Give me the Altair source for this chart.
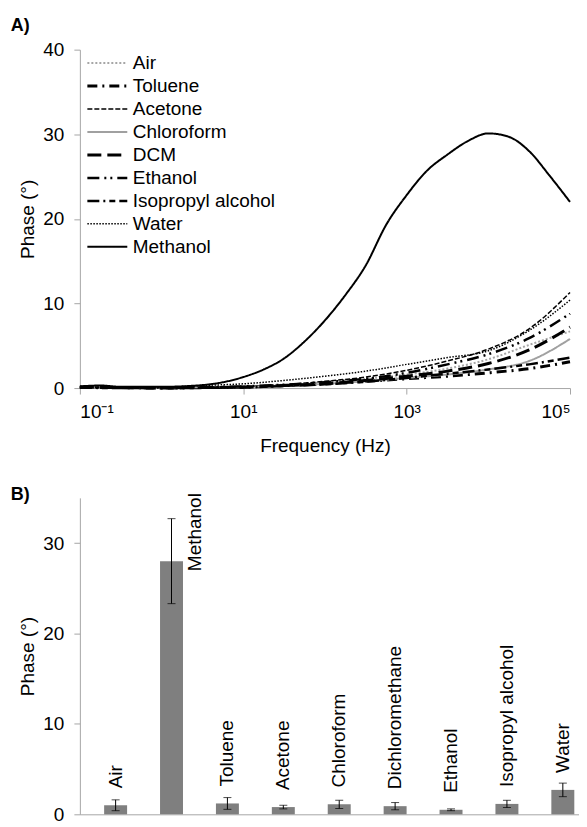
import altair as alt
import pandas as pd

FONT = "Liberation Sans"
FS = 19

# ---------------- Panel A data ----------------
legend_order = ["Air", "Toluene", "Acetone", "Chloroform", "DCM", "Ethanol",
                "Isopropyl alcohol", "Water", "Methanol"]
line_colors = ["#a6a6a6", "#000000", "#000000", "#a0a0a0", "#000000", "#000000",
               "#000000", "#000000", "#000000"]
line_dashes = [[2, 2], [10, 5, 2, 5], [5, 2], [1, 0], [14, 6], [12, 5, 2, 4, 2, 5],
               [12, 4, 2, 4, 6, 4], [1.5, 1.5], [1, 0]]
line_widths = [2, 3, 1.5, 2, 3, 2.5, 2.5, 1.5, 2]

xtick_values = [0.1, 10, 1000, 100000]
xtick_labels = ["10\u207b\u00b9", "10\u00b9", "10\u00b3", "10\u2075"]

freq_fine = [0.1, 0.178, 0.316, 1, 3.16, 10, 17.8, 31.6, 56.2, 100, 178, 316, 562,
             1000, 1778, 3162, 5623, 10000, 17783, 31623, 56234, 100000]
methanol = [0.2, 0.3, 0.15, 0.15, 0.35, 1.3, 2.2, 3.5, 5.5, 8.0, 11.0, 14.5, 19.3,
            22.8, 25.7, 27.6, 29.2, 30.1, 29.7, 28.0, 25.1, 22.0]

freq = [0.1, 0.316, 1, 3.16, 10, 31.6, 100, 316, 1000, 3162, 10000, 31623, 100000]
air = [0.1, 0.05, 0.05, 0.1, 0.2, 0.4, 0.7, 1.1, 1.6, 2.3, 3.4, 5.1, 6.7]
toluene = [0.1, 0.05, 0.0, 0.05, 0.1, 0.3, 0.5, 0.8, 1.1, 1.4, 1.8, 2.3, 3.1]
acetone = [0.1, 0.05, 0.05, 0.1, 0.2, 0.4, 0.8, 1.3, 2.1, 3.2, 4.6, 7.0, 11.3]
chloroform = [0.1, 0.05, 0.05, 0.1, 0.15, 0.3, 0.5, 0.8, 1.2, 1.6, 2.2, 3.2, 5.8]
dcm = [0.1, 0.05, 0.0, 0.05, 0.1, 0.3, 0.5, 0.9, 1.4, 2.0, 2.9, 4.5, 7.2]
ethanol = [0.1, 0.05, 0.05, 0.1, 0.2, 0.4, 0.7, 1.1, 1.8, 2.8, 4.0, 5.9, 8.8]
isopropyl = [0.05, 0.0, 0.0, 0.05, 0.1, 0.25, 0.45, 0.75, 1.2, 1.7, 2.2, 2.8, 3.6]
water = [0.1, 0.1, 0.1, 0.3, 0.5, 0.9, 1.4, 2.0, 2.8, 3.6, 4.4, 6.8, 10.4]

series = {
    "Air": (freq, air), "Toluene": (freq, toluene), "Acetone": (freq, acetone),
    "Chloroform": (freq, chloroform), "DCM": (freq, dcm), "Ethanol": (freq, ethanol),
    "Isopropyl alcohol": (freq, isopropyl), "Water": (freq, water),
    "Methanol": (freq_fine, methanol),
}
rows = []
for name, (fs, vs) in series.items():
    for f, v in zip(fs, vs):
        rows.append({"solvent": name, "freq": f, "phase": v})
df_lines = pd.DataFrame(rows)

# ---------------- Panel B data ----------------
bar_solvents = ["Air", "Methanol", "Toluene", "Acetone", "Chloroform",
                "Dichloromethane", "Ethanol", "Isopropyl alcohol", "Water"]
bar_phase = [1.0, 28.0, 1.2, 0.8, 1.1, 0.9, 0.5, 1.15, 2.7]
bar_err = [0.6, 4.7, 0.65, 0.2, 0.45, 0.4, 0.1, 0.4, 0.75]
df_bars = pd.DataFrame({
    "solvent": bar_solvents,
    "idx": list(range(len(bar_solvents))),
    "phase": bar_phase,
    "lo": [p - e for p, e in zip(bar_phase, bar_err)],
    "hi": [p + e for p, e in zip(bar_phase, bar_err)],
})

label_expr = " : ".join(
    f"datum.value < {v * 1.5} ? '{t}'" for v, t in zip(xtick_values[:-1], xtick_labels[:-1])
) + f" : '{xtick_labels[-1]}'"

# ---------------- Panel A ----------------
chart_a = alt.Chart(df_lines).mark_line(interpolate="monotone").encode(
    x=alt.X("freq:Q",
            scale=alt.Scale(type="log", domain=[0.1, 100000], nice=False),
            axis=alt.Axis(values=xtick_values, labelExpr=label_expr,
                          title="Frequency (Hz)", titlePadding=15, labelPadding=9)),
    y=alt.Y("phase:Q", scale=alt.Scale(domain=[0, 40], nice=False),
            axis=alt.Axis(values=[0, 10, 20, 30, 40], title="Phase (°)")),
    color=alt.Color("solvent:N", scale=alt.Scale(domain=legend_order, range=line_colors),
                    title=None),
    strokeDash=alt.StrokeDash("solvent:N", scale=alt.Scale(domain=legend_order, range=line_dashes),
                              title=None),
    strokeWidth=alt.StrokeWidth("solvent:N", scale=alt.Scale(type="ordinal", domain=legend_order,
                                                             range=line_widths),
                                title=None),
).properties(
    width=491, height=339,
    title=alt.TitleParams("A)", anchor="start", frame="bounds", fontSize=18,
                          fontWeight="bold", font=FONT, color="black", dx=-8, offset=6),
)

# ---------------- Panel B ----------------
base = alt.Chart(df_bars)
xb = alt.X("idx:Q", scale=alt.Scale(domain=[-0.55, 8.2], nice=False, zero=False),
           axis=alt.Axis(labels=False, ticks=False, title=None))
yb = alt.Y("phase:Q", scale=alt.Scale(domain=[0, 35], nice=False),
           axis=alt.Axis(values=[0, 10, 20, 30], title="Phase (°)"))

bars = base.mark_bar(size=23, color="#7f7f7f").encode(x=xb, y=yb)
err = base.mark_rule(color="black", strokeWidth=1).encode(x="idx:Q", y="lo:Q", y2="hi:Q")
cap_hi = base.mark_tick(orient="horizontal", size=8, thickness=1, color="black").encode(
    x="idx:Q", y="hi:Q")
cap_lo = base.mark_tick(orient="horizontal", size=8, thickness=1, color="black").encode(
    x="idx:Q", y="lo:Q")
labels = base.transform_filter(alt.datum.solvent != "Methanol").mark_text(
    angle=270, align="left", baseline="middle", dx=17, fontSize=FS, font=FONT, color="black"
).encode(x="idx:Q", y="phase:Q", text="solvent:N")
meth_label = base.transform_filter(alt.datum.solvent == "Methanol").mark_text(
    angle=270, align="left", baseline="middle", dx=-10, dy=24, fontSize=FS, font=FONT, color="black"
).encode(x="idx:Q", y="phase:Q", text="solvent:N")

chart_b = alt.layer(bars, err, cap_hi, cap_lo, labels, meth_label).properties(
    width=500, height=317,
    title=alt.TitleParams("B)", anchor="start", frame="bounds", fontSize=18,
                          fontWeight="bold", font=FONT, color="black", dx=-8, offset=-11),
)

chart = alt.vconcat(chart_a, chart_b, spacing=30).properties(
    padding={"left": 2, "top": 8, "right": 0, "bottom": 0}
).configure_view(stroke=None).configure_axis(
    domainColor="#a6a6a6", tickColor="#a6a6a6", tickSize=6, grid=False,
    labelFont=FONT, labelFontSize=FS, labelColor="black", labelPadding=10,
    titleFont=FONT, titleFontSize=FS, titleFontWeight="normal", titleColor="black",
    titlePadding=5,
).configure_legend(
    orient="none", legendX=6, legendY=4, symbolType="stroke", symbolSize=1600,
    clipHeight=19, rowPadding=3, labelFont=FONT, labelFontSize=FS, labelColor="black",
    labelOffset=4, padding=0,
)

chart.save("out.html", embed_options={"renderer": "svg", "actions": False})
